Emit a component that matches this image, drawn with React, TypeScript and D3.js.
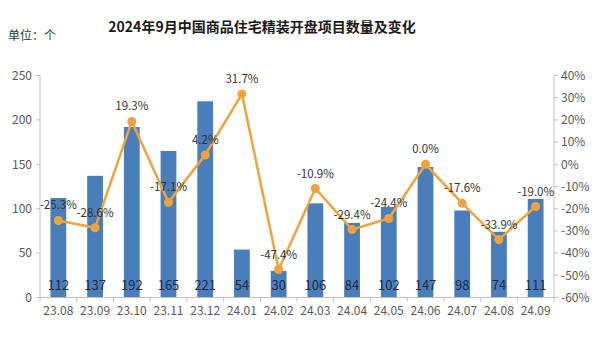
import React from "react";
import * as d3 from "d3";

const categories = ["23.08","23.09","23.10","23.11","23.12","24.01","24.02","24.03","24.04","24.05","24.06","24.07","24.08","24.09"];
const counts = [112,137,192,165,221,54,30,106,84,102,147,98,74,111];
const changes = [-25.3,-28.6,19.3,-17.1,4.2,31.7,-47.4,-10.9,-29.4,-24.4,0.0,-17.6,-33.9,-19.0];
const leftTicks = [0,50,100,150,200,250];
const rightTicks = [-60,-50,-40,-30,-20,-10,0,10,20,30,40];

const W = 600, H = 340;
const L = 40, R = 554, T = 75.5, B = 297.5;
const font = "'Noto Sans CJK SC', 'Noto Sans', sans-serif";

export default function App() {
  const x = d3.scaleBand<string>().domain(categories).range([L, R]).paddingInner(0).paddingOuter(0);
  const yL = d3.scaleLinear().domain([0, 250]).range([B, T]);
  const yR = d3.scaleLinear().domain([-60, 40]).range([B, T]);
  const bw = x.bandwidth() * 0.43;
  const cx = (c: string) => (x(c) as number) + x.bandwidth() / 2;
  const line = d3.line<number>().x((_, i) => cx(categories[i])).y(d => yR(d));
  const axisColor = "#bfbfbf";
  const textColor = "#595959";
  return (
    <svg width={W} height={H} style={{ position: "absolute", left: 0, top: 0, background: "#fff" }} fontFamily={font}>
      <text x={262} y={32} textAnchor="middle" fontSize={14} fontWeight="bold" fill="#1a1a1a">2024年9月中国商品住宅精装开盘项目数量及变化</text>
      <text x={8} y={40} fontSize={12} fill="#333">单位：个</text>
      {/* bars */}
      {counts.map((v, i) => (
        <rect key={i} x={cx(categories[i]) - bw / 2} y={yL(v)} width={bw} height={yL(0) - yL(v)} fill="#4a7ebb" />
      ))}
      {/* left axis */}
      <line x1={L} x2={L} y1={T} y2={B} stroke={axisColor} />
      {leftTicks.map(t => (
        <g key={t}>
          <line x1={L - 4} x2={L} y1={yL(t)} y2={yL(t)} stroke={axisColor} />
          <text x={L - 8} y={yL(t)} dy="0.35em" textAnchor="end" fontSize={12} fill={textColor}>{t}</text>
        </g>
      ))}
      {/* right axis */}
      <line x1={R} x2={R} y1={T} y2={B} stroke={axisColor} />
      {rightTicks.map(t => (
        <g key={t}>
          <line x1={R} x2={R + 4} y1={yR(t)} y2={yR(t)} stroke={axisColor} />
          <text x={R + 7} y={yR(t)} dy="0.35em" textAnchor="start" fontSize={12} fill={textColor}>{t}%</text>
        </g>
      ))}
      {/* bottom axis */}
      <line x1={L} x2={R} y1={B} y2={B} stroke={axisColor} />
      {categories.map((c, i) => (
        <g key={c}>
          <line x1={x(c) as number} x2={x(c) as number} y1={B} y2={B + 4} stroke={axisColor} />
          <text x={cx(c)} y={B + 13} dy="0.35em" textAnchor="middle" fontSize={12} fill={textColor}>{c}</text>
        </g>
      ))}
      <line x1={R} x2={R} y1={B} y2={B + 4} stroke={axisColor} />
      {/* bar labels */}
      {counts.map((v, i) => (
        <text key={i} x={cx(categories[i])} y={yL(0) - 12} dy="0.35em" textAnchor="middle" fontSize={13} fill="#1f2a44">{v}</text>
      ))}
      {/* line */}
      <path d={line(changes) || ""} fill="none" stroke="#f0a33c" strokeWidth={2.5} />
      {changes.map((v, i) => (
        <circle key={i} cx={cx(categories[i])} cy={yR(v)} r={4.5} fill="#f0a33c" />
      ))}
      {changes.map((v, i) => (
        <text key={i} x={cx(categories[i])} y={yR(v) - 15} dy="0.35em" textAnchor="middle" fontSize={11.5} fill="#333">{v.toFixed(1)}%</text>
      ))}
    </svg>
  );
}
